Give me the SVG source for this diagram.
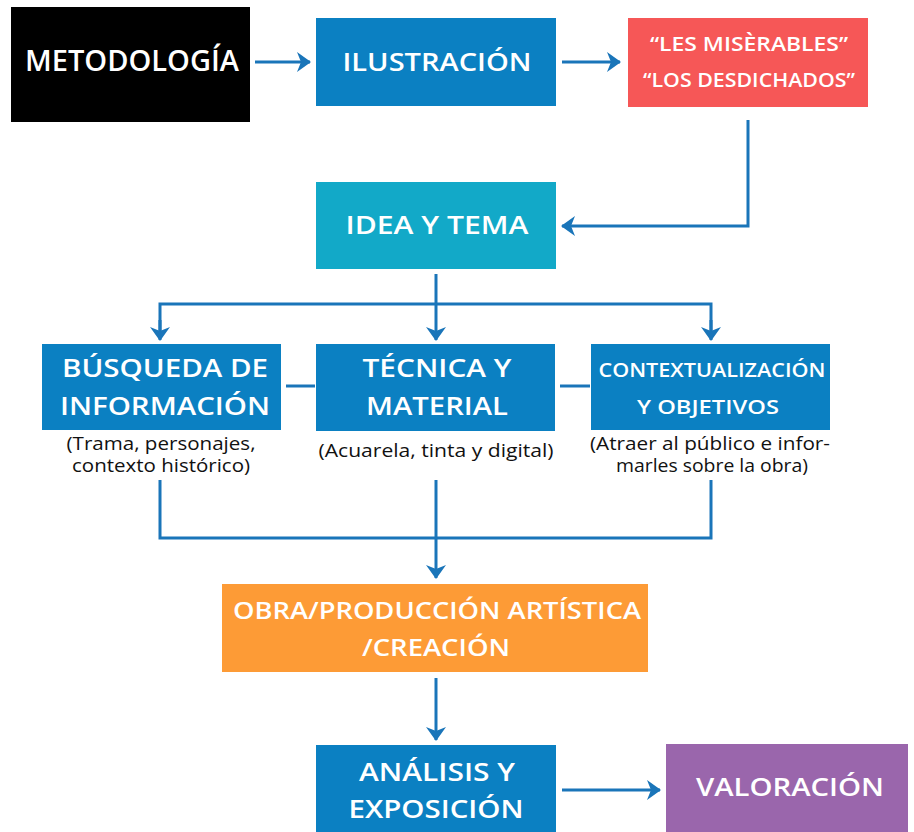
<svg xmlns="http://www.w3.org/2000/svg" width="914" height="832" viewBox="0 0 914 832">
<defs>
<style>
.t{font-family:"Open Sans","Liberation Sans",sans-serif;font-weight:600;fill:#fff;text-anchor:middle}
.s{font-family:"Open Sans","Liberation Sans",sans-serif;font-weight:400;fill:#111;text-anchor:middle;font-size:17.5px}
.c{fill:none;stroke:#1a75b9;stroke-width:3}
.a{marker-end:url(#ah)}
</style>
<marker id="ah" viewBox="0 0 14 20" refX="13" refY="10" markerWidth="14" markerHeight="20" markerUnits="userSpaceOnUse" orient="auto">
<path d="M0,0 L14,10 L0,20 L4,10 z" fill="#1a75b9"/>
</marker>
</defs>
<rect width="914" height="832" fill="#fff"/>
<g id="connectors">
<line class="c a" x1="255" y1="62" x2="310" y2="62"/>
<line class="c a" x1="562" y1="62" x2="620" y2="62"/>
<polyline class="c a" points="748,120 748,226 562,226"/>
<line class="c a" x1="436" y1="274" x2="436" y2="340"/>
<polyline class="c" points="160,335 160,304 711,304 711,335"/>
<line class="c a" x1="160" y1="320" x2="160" y2="340"/>
<line class="c a" x1="711" y1="320" x2="711" y2="340"/>
<line class="c" x1="286" y1="386" x2="315" y2="386"/>
<line class="c" x1="560" y1="386" x2="590" y2="386"/>
<polyline class="c" points="160,480 160,538 711,538 711,480"/>
<line class="c a" x1="436" y1="480" x2="436" y2="578"/>
<line class="c a" x1="436" y1="678" x2="436" y2="740"/>
<line class="c a" x1="562" y1="790" x2="660" y2="790"/>
</g>
<g id="metodologia">
<rect x="11" y="7" width="239" height="115" fill="#000"/>
<text class="t" x="132" y="71" font-size="28" textLength="214" lengthAdjust="spacingAndGlyphs">METODOLOGÍA</text>
</g>
<g id="ilustracion">
<rect x="316" y="18" width="240" height="88" fill="#0b80c2"/>
<text class="t" x="437" y="71" font-size="26" textLength="189" lengthAdjust="spacingAndGlyphs">ILUSTRACIÓN</text>
</g>
<g id="miserables">
<rect x="628" y="18" width="240" height="89" fill="#f65757"/>
<text class="t" x="749" y="51" font-size="20" textLength="198" lengthAdjust="spacingAndGlyphs">“LES MISÈRABLES”</text>
<text class="t" x="749" y="87" font-size="20" textLength="212" lengthAdjust="spacingAndGlyphs">“LOS DESDICHADOS”</text>
</g>
<g id="idea">
<rect x="316" y="182" width="240" height="87" fill="#12a9c8"/>
<text class="t" x="437" y="234" font-size="26" textLength="183" lengthAdjust="spacingAndGlyphs">IDEA Y TEMA</text>
</g>
<g id="busqueda">
<rect x="42" y="344" width="239" height="86" fill="#0b80c2"/>
<text class="t" x="165" y="377" font-size="26" textLength="206" lengthAdjust="spacingAndGlyphs">BÚSQUEDA DE</text>
<text class="t" x="165" y="415" font-size="26" textLength="210" lengthAdjust="spacingAndGlyphs">INFORMACIÓN</text>
<text class="s" x="161" y="450" textLength="189" lengthAdjust="spacingAndGlyphs">(Trama, personajes,</text>
<text class="s" x="161" y="472" textLength="178" lengthAdjust="spacingAndGlyphs">contexto histórico)</text>
</g>
<g id="tecnica">
<rect x="316" y="344" width="239" height="87" fill="#0b80c2"/>
<text class="t" x="437" y="377" font-size="26" textLength="149" lengthAdjust="spacingAndGlyphs">TÉCNICA Y</text>
<text class="t" x="437" y="415" font-size="26" textLength="142" lengthAdjust="spacingAndGlyphs">MATERIAL</text>
<text class="s" x="436" y="457" textLength="235" lengthAdjust="spacingAndGlyphs">(Acuarela, tinta y digital)</text>
</g>
<g id="contextualizacion">
<rect x="591" y="344" width="239" height="86" fill="#0b80c2"/>
<text class="t" x="712" y="377" font-size="19" textLength="227" lengthAdjust="spacingAndGlyphs">CONTEXTUALIZACIÓN</text>
<text class="t" x="708" y="414" font-size="19" textLength="142" lengthAdjust="spacingAndGlyphs">Y OBJETIVOS</text>
<text class="s" x="710" y="450" textLength="240" lengthAdjust="spacingAndGlyphs">(Atraer al público e infor-</text>
<text class="s" x="712" y="472" textLength="192" lengthAdjust="spacingAndGlyphs">marles sobre la obra)</text>
</g>
<g id="obra">
<rect x="222" y="584" width="426" height="88" fill="#fd9b36"/>
<text class="t" x="437" y="619" font-size="24" textLength="408" lengthAdjust="spacingAndGlyphs">OBRA/PRODUCCIÓN ARTÍSTICA</text>
<text class="t" x="436" y="656" font-size="24" textLength="148" lengthAdjust="spacingAndGlyphs">/CREACIÓN</text>
</g>
<g id="analisis">
<rect x="316" y="745" width="240" height="87" fill="#0b80c2"/>
<text class="t" x="437" y="781" font-size="26" textLength="156" lengthAdjust="spacingAndGlyphs">ANÁLISIS Y</text>
<text class="t" x="436" y="818" font-size="26" textLength="175" lengthAdjust="spacingAndGlyphs">EXPOSICIÓN</text>
</g>
<g id="valoracion">
<rect x="666" y="744" width="242" height="88" fill="#9a66ac"/>
<text class="t" x="790" y="796" font-size="26" textLength="188" lengthAdjust="spacingAndGlyphs">VALORACIÓN</text>
</g>
</svg>
